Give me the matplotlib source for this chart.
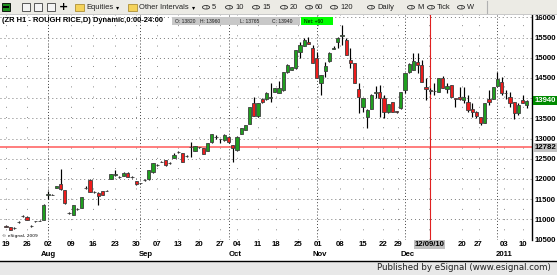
import matplotlib
matplotlib.use("Agg")
import matplotlib.pyplot as plt
from matplotlib.patches import Rectangle, Circle
import numpy as np

# ---------------- data ----------------
opens = [10830, 10800, 10780, 10930, 11080, 11060, 10840, 10950, 10970, 10990,
         11600, 11600, 11780, 11870, 11725, 11160, 11110, 11250, 11280, 11770,
         11970, 11680, 11650, 11700, 11700, 12000, 12100, 12050, 12070, 12150,
         12050, 11950, 11900, 11970, 11990, 12170, 12340, 12420, 12470, 12390,
         12520, 12660, 12640, 12570, 12790, 12690, 12790, 12760, 12690, 12910,
         13040, 12990, 12960, 13040, 12840, 12720, 13110, 13210, 13360, 13880,
         13560, 13980, 13980, 14000, 14150, 14130, 14200, 14640, 14700, 14740,
         15140, 15290, 15390, 15240, 14990, 14370, 14670, 14920, 15220, 15390,
         15540, 15440, 14940, 14870, 14220, 13780, 13530, 13730, 14120, 14150,
         14000, 13660, 13900, 13670, 13760, 14200, 14650, 14700, 14890, 14820,
         14270, 14200, 14170, 14150, 14490, 14220, 14320, 14000, 14020, 13950,
         13900, 13730, 13660, 13530, 13390, 13970, 13990, 14300, 14400, 14120,
         14020, 13900, 13630, 13960, 13820]
highs = [10860, 10810, 10800, 10950, 11110, 11070, 10850, 10970, 10980, 11370,
         11700, 11620, 11830, 12245, 11730, 11170, 11360, 11270, 11560, 11820,
         11990, 11690, 11680, 11710, 11720, 12130, 12230, 12060, 12160, 12160,
         12060, 11960, 11910, 11990, 12230, 12400, 12360, 12440, 12480, 12410,
         12640, 12680, 12650, 12580, 12910, 12820, 12800, 12770, 12900, 13120,
         13080, 13000, 13100, 13050, 12850, 13050, 13270, 13340, 13790, 14030,
         13890, 14000, 14140, 14370, 14260, 14420, 14650, 14840, 14780, 15190,
         15390, 15490, 15510, 15310, 15140, 14580, 14890, 15130, 15290, 15510,
         15810, 15490, 15240, 14880, 14370, 14010, 13720, 14090, 14300, 14320,
         14080, 13860, 13910, 13690, 14160, 14630, 14870, 15110, 15110, 14940,
         14500, 14250, 14370, 14500, 14540, 14370, 14330, 14010, 14270, 14270,
         14070, 13880, 13680, 13540, 13890, 14200, 14280, 14650, 14520, 14200,
         14150, 13910, 13880, 14080, 13960]
lows = [10800, 10730, 10770, 10920, 11060, 10980, 10820, 10940, 10950, 10980,
        11500, 11590, 11770, 11730, 11390, 11140, 11100, 11240, 11270, 11740,
        11670, 11660, 11360, 11590, 11690, 11990, 12070, 12030, 12060, 12040,
        12030, 11860, 11880, 11960, 11980, 12150, 12330, 12410, 12330, 12380,
        12510, 12650, 12410, 12550, 12540, 12680, 12770, 12610, 12680, 12900,
        12990, 12900, 12950, 12900, 12420, 12700, 13100, 13200, 13350, 13550,
        13540, 13890, 13960, 13900, 14140, 14120, 14180, 14630, 14690, 14730,
        14990, 15280, 15330, 14860, 14490, 14080, 14520, 14900, 15210, 15240,
        15320, 15060, 14740, 14370, 13630, 13660, 13260, 13720, 14000, 13530,
        13510, 13640, 13650, 13640, 13740, 14130, 14620, 14690, 14620, 14390,
        13950, 14100, 14080, 14140, 14240, 14130, 14020, 13780, 13960, 13880,
        13660, 13530, 13500, 13330, 13380, 13830, 13980, 14290, 14080, 13980,
        13780, 13480, 13580, 13870, 13765]
closes = [10820, 10740, 10790, 10940, 11090, 10990, 10830, 10960, 10960, 11360,
          11620, 11610, 11820, 11750, 11400, 11150, 11350, 11260, 11550, 11780,
          11680, 11670, 11580, 11600, 11710, 12120, 12110, 12040, 12150, 12050,
          12040, 11870, 11890, 11980, 12220, 12390, 12350, 12430, 12340, 12400,
          12590, 12670, 12420, 12560, 12800, 12810, 12780, 12620, 12890, 13110,
          13030, 12980, 13090, 12910, 12770, 13040, 13260, 13330, 13780, 13560,
          13880, 13900, 14130, 14020, 14250, 14250, 14640, 14810, 14770, 15180,
          15310, 15440, 15340, 14870, 14500, 14570, 14790, 15110, 15230, 15490,
          15560, 15070, 14870, 14380, 14030, 14000, 13710, 14080, 14150, 14000,
          13660, 13850, 13660, 13660, 14150, 14620, 14840, 14920, 14820, 14400,
          14220, 14180, 14180, 14490, 14250, 14290, 14030, 13990, 13970, 14020,
          13700, 13660, 13560, 13390, 13880, 13900, 14270, 14470, 14120, 14130,
          13870, 13620, 13820, 13880, 13940]

day_labels = ['19', '26', '02', '09', '16', '23', '30', '07', '13', '20', '27',
              '04', '11', '18', '25', '01', '08', '15', '22', '29', '12/09/10',
              '20', '27', '03', '10']
day_pos = [0, 5, 10, 15.5, 20.7, 26, 31, 36, 41, 46, 51,
           55, 60, 64.3, 69.5, 74.3, 79.5, 85, 89.8, 93.3, 100.8,
           108.6, 112.5, 118.5, 123]
month_labels = ['Aug', 'Sep', 'Oct', 'Nov', 'Dec', '2011']
month_pos = [10.1, 33.3, 54.5, 74.8, 95.7, 118.7]
month_start = [10, 32, 53, 74, 95, 117]
price_ticks = list(range(10500, 16001, 500))
ref_level = 12782
cursor_bar = 101
last_close = 13940

# ---------------- figure ----------------
W, H = 557, 275
fig = plt.figure(figsize=(W / 100, H / 100), dpi=100)
fig.patch.set_facecolor('white')
AX_TOP, AX_BOT, AX_RIGHT = 15, 240, 532
ax = fig.add_axes([0, 1 - AX_BOT / H, AX_RIGHT / W, (AX_BOT - AX_TOP) / H])

def prect(x0, y0, x1, y1, **kw):
    fig.add_artist(Rectangle((x0 / W, 1 - y1 / H), (x1 - x0) / W, (y1 - y0) / H,
                             transform=fig.transFigure, **kw))

def ptext(x, y, s, **kw):
    fig.text(x / W, 1 - y / H, s, **kw)

def pline(x0, y0, x1, y1, **kw):
    fig.add_artist(plt.Line2D([x0 / W, x1 / W], [1 - y0 / H, 1 - y1 / H],
                              transform=fig.transFigure, **kw))

o = np.array(opens); h = np.array(highs); l = np.array(lows); c = np.array(closes)
idx = np.arange(len(o))
up = c >= o
col = np.where(up, '#1f9f1f', '#ee1c1c')

px_per_bar = 4.2
ax.set_xlim(-6 / px_per_bar, (AX_RIGHT - 6) / px_per_bar)
ppu = 20.2 / 500.0
ax.set_ylim(10500 - 0.5 / ppu, 10500 + (239.5 - AX_TOP) / ppu)

# grid
for p in price_ticks:
    ax.axhline(p, color='#7a7a7a', lw=0.7, ls=(0, (1, 3.1)), zorder=1)
for t in day_pos:
    ax.axvline(t, color='#8a8a8a', lw=0.7, ls=(0, (1, 9.5)), zorder=1)
for m in month_start:
    ax.axvline(m, color='#404040', lw=0.7, ls=(0, (1, 2.2)), zorder=1.5)

ax.axhline(ref_level, color='#ff5a5a', lw=1.1, zorder=2)
ax.axvline(cursor_bar, color='#e02020', lw=0.8, zorder=2)

# candles
ax.vlines(idx, l, h, color='black', lw=0.85, zorder=3)
ax.bar(idx, np.maximum(np.abs(c - o), 8), bottom=np.minimum(o, c), width=0.8,
       color=col, edgecolor='#404040', linewidth=0.6, zorder=4)

# axes styling
for s in ['top', 'left', 'bottom']:
    ax.spines[s].set_visible(False)
ax.spines['right'].set_color('black')
ax.spines['right'].set_linewidth(1.0)
ax.yaxis.tick_right()
ax.set_yticks(price_ticks)
ax.set_yticklabels([str(p) for p in price_ticks], fontsize=5.6, fontweight='bold',
                   family='Liberation Sans')
ax.tick_params(axis='y', length=0, pad=2)
ax.set_xticks(day_pos)
ax.set_xticklabels(day_labels, fontsize=5.6, fontweight='bold', family='Liberation Sans')
ax.tick_params(axis='x', length=0, pad=0.8)
for lab in ax.get_xticklabels():
    if lab.get_text() == '12/09/10':
        lab.set_bbox(dict(facecolor='#c0c0c0', edgecolor='none', pad=0.6))

for name, pos in zip(month_labels, month_pos):
    ax.text(pos, (AX_BOT - 254) / (AX_BOT - AX_TOP), name, transform=ax.get_xaxis_transform(),
            ha='center', va='center', fontsize=5.6, fontweight='bold', family='Liberation Sans')

# price axis boxes
ax.text(1.004, last_close, str(last_close), transform=ax.get_yaxis_transform(),
        ha='left', va='center', fontsize=5.6, fontweight='bold', family='Liberation Sans',
        color='white', bbox=dict(facecolor='#008a00', edgecolor='none', pad=0.8), clip_on=False)
ax.text(1.004, ref_level, str(ref_level), transform=ax.get_yaxis_transform(),
        ha='left', va='center', fontsize=5.6, fontweight='bold', family='Liberation Sans',
        color='black', bbox=dict(facecolor='#c4c4c4', edgecolor='none', pad=0.8), clip_on=False)

# title and OHLC
ptext(2, 21, '(ZR H1 - ROUGH RICE,D) Dynamic,0:00-24:00', fontsize=5.4, fontweight='bold',
      family='Liberation Sans', va='center', ha='left')
prect(172, 17, 300, 25, facecolor='#c8c8c8', edgecolor='none')
prect(301, 17, 333, 25, facecolor='#00ff00', edgecolor='none')
for x, s in [(175, 'O: %d' % o[-1]), (200, 'H: %d' % h[-1]), (240, 'L: %d' % l[-1]),
             (272, 'C: %d' % c[-1])]:
    ptext(x, 21.2, s, fontsize=3.6, family='Liberation Sans', va='center', ha='left',
          color='#202020')
ptext(304, 21.2, 'Net: +%d' % (c[-1] - c[-2]), fontsize=3.6, family='Liberation Sans',
      va='center', ha='left', color='black')
ptext(2, 236, '© eSignal, 2009', fontsize=3.2, family='DejaVu Sans', va='center', ha='left')

# toolbar
prect(0, 0, 557, 14, facecolor='#ecebe5', edgecolor='none')
pline(0, 14, 557, 14, color='#c8c8c8', lw=0.7)
prect(2, 3, 10, 11, facecolor='#1d8f1d', edgecolor='black', lw=0.6)
prect(3, 6, 9, 8, facecolor='black', edgecolor='none')
for x0 in (22, 34, 47):
    prect(x0, 3, x0 + 8, 11, facecolor='#f4f4f4', edgecolor='#404040', lw=0.6)
ptext(63, 7, '+', fontsize=8, fontweight='bold', va='center', ha='center')
for x0 in (75, 128):
    prect(x0, 4, x0 + 9, 11, facecolor='#f5d35a', edgecolor='#a08020', lw=0.5)
ptext(86, 7.3, 'Equities', fontsize=5.4, family='Liberation Sans', va='center', ha='left',
      color='#202020')
ptext(118, 7.5, '▾', fontsize=4.5, va='center', ha='center')
ptext(139, 7.3, 'Other Intervals', fontsize=5.4, family='Liberation Sans', va='center',
      ha='left', color='#202020')
ptext(194, 7.5, '▾', fontsize=4.5, va='center', ha='center')
for cx, s in [(206, '5'), (229, '10'), (256, '15'), (284, '20'), (309, '60'), (334, '120'),
              (371, 'Daily'), (411, 'M'), (431, 'Tick'), (461, 'W')]:
    fig.add_artist(Circle((cx / W, 1 - 7.3 / H), 3.6 / W, transform=fig.transFigure,
                          facecolor='none', edgecolor='#303030', lw=0.6))
    ptext(cx, 7.3, 'I', fontsize=4.2, va='center', ha='center', color='#303030')
    ptext(cx + 6, 7.3, s, fontsize=5.4, family='Liberation Sans', va='center', ha='left',
          color='#202020')
pline(487, 1, 487, 13, color='#b0b0b0', lw=0.8)

# footer
prect(0, 261, 557, 275, facecolor='#e8e8e8', edgecolor='none')
pline(0, 261, 557, 261, color='black', lw=1.0)
ptext(551, 268, 'Published by eSignal (www.esignal.com)', fontsize=6.2, va='center', ha='right',
      family='DejaVu Sans', color='#202020')

fig.savefig('out.png', dpi=100)
